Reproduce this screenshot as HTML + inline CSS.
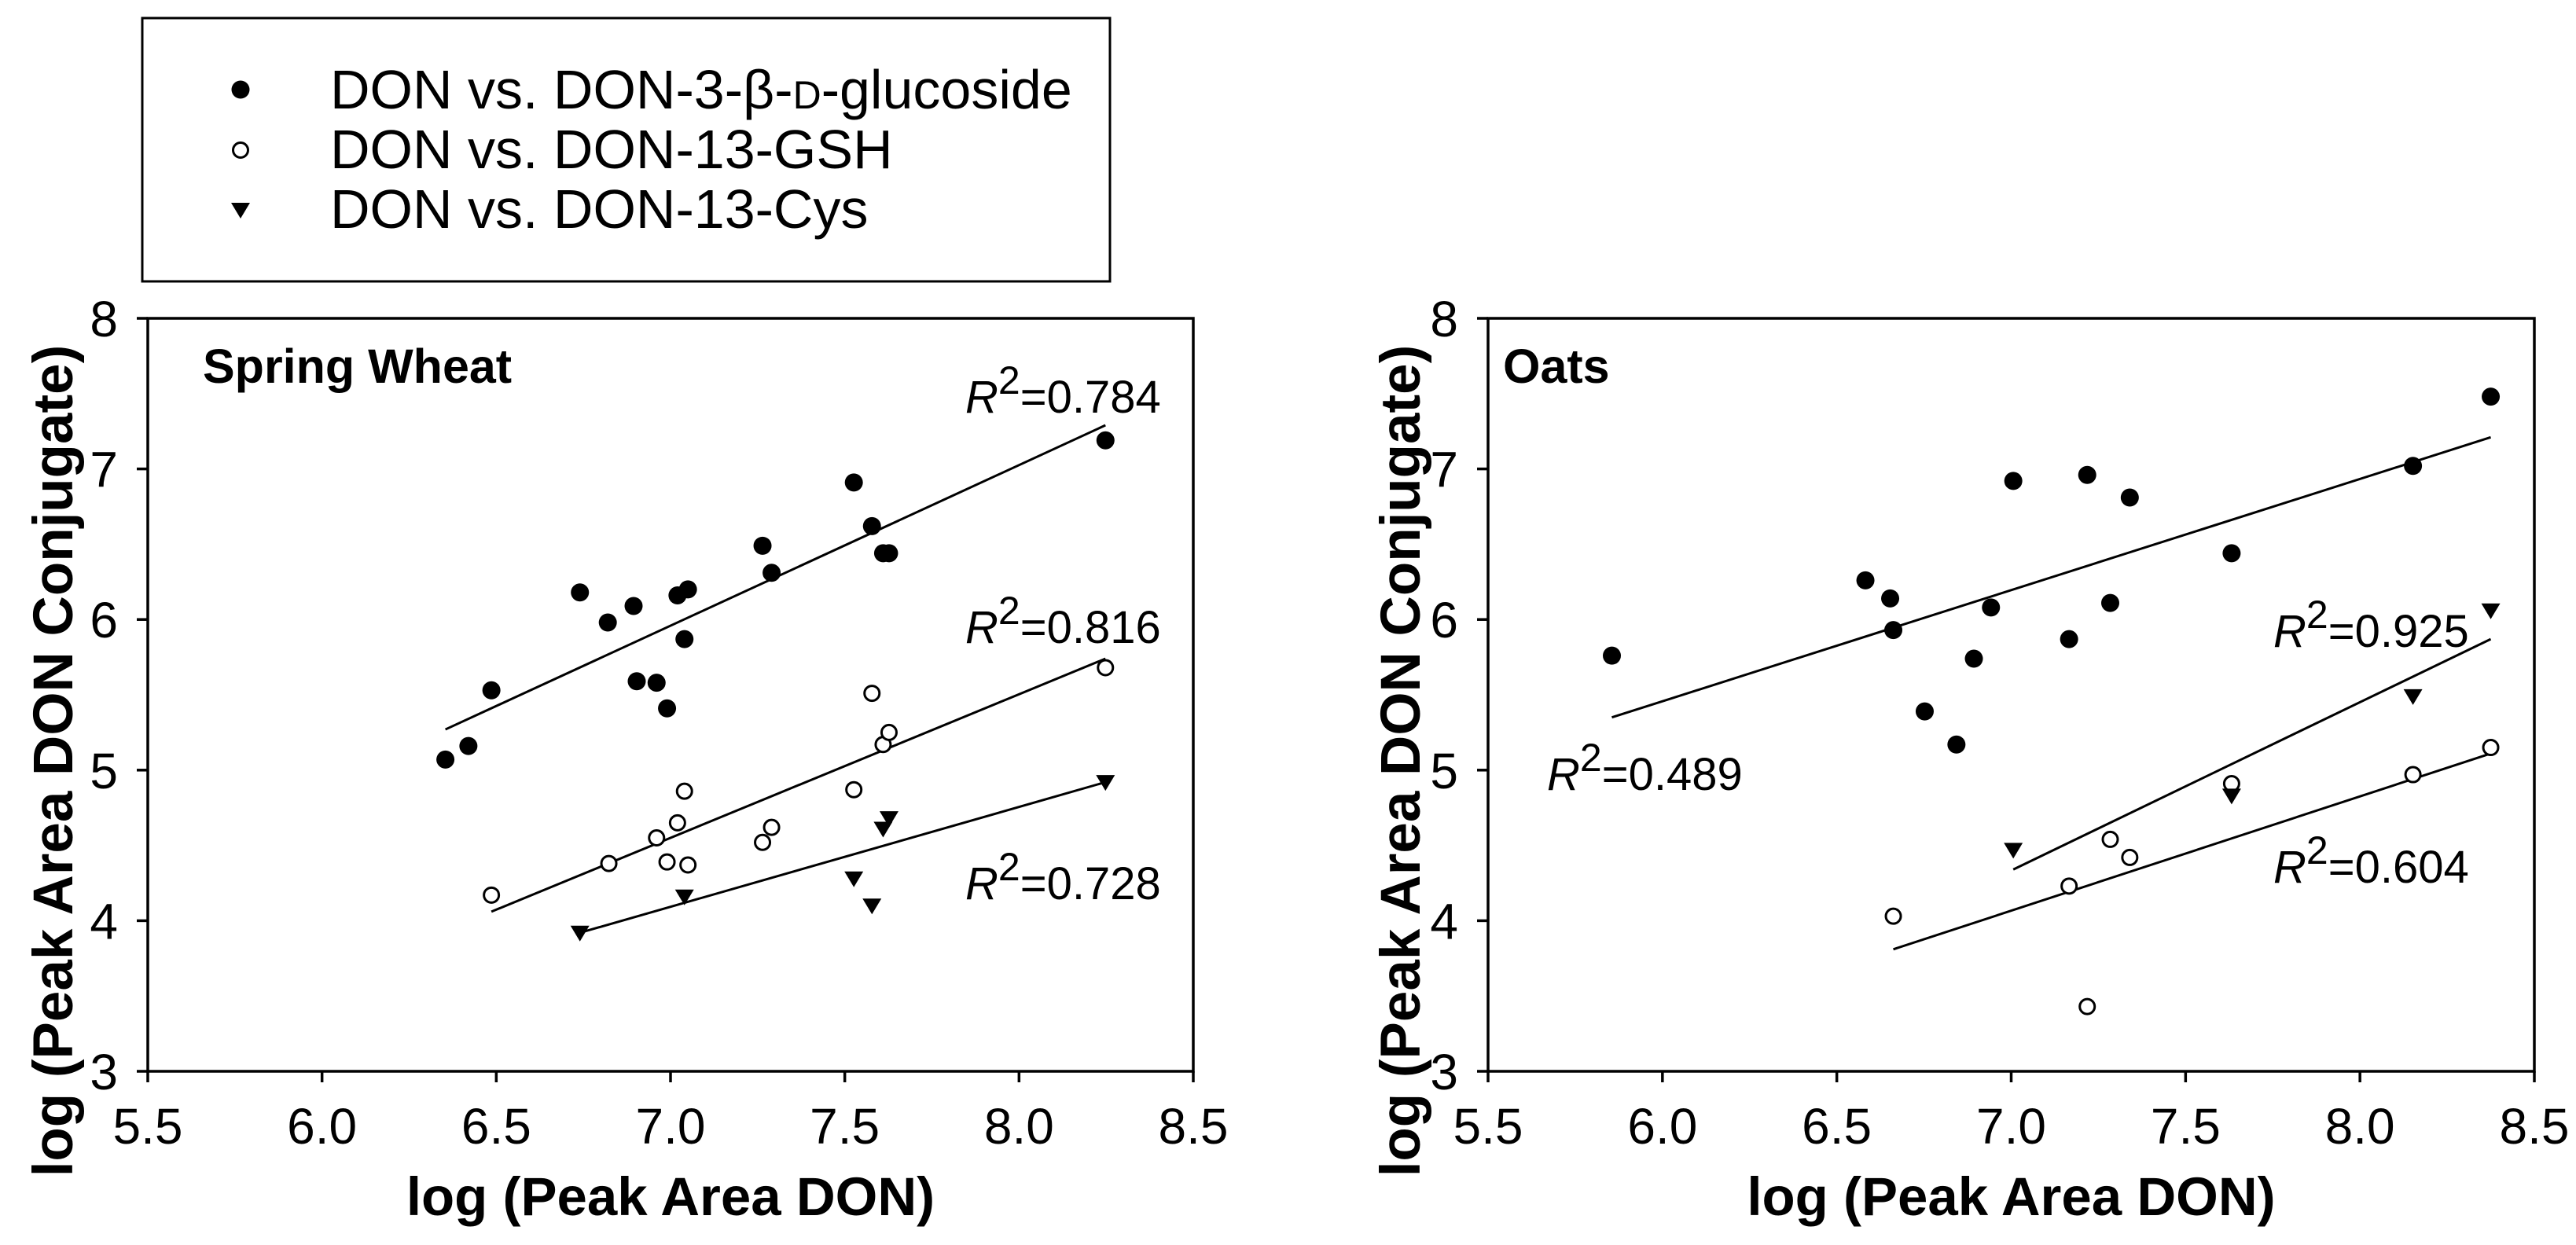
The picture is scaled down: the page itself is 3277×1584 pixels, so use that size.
<!DOCTYPE html>
<html><head><meta charset="utf-8"><style>
html,body{margin:0;padding:0;background:#fff;}
svg{display:block;font-family:"Liberation Sans",Arial,sans-serif;}
</style></head><body>
<svg id="fig" width="3277" height="1584" viewBox="0 0 3277 1584" xmlns="http://www.w3.org/2000/svg">
<g>
<rect x="181" y="23" width="1231" height="335" fill="#fff" stroke="#000" stroke-width="3"/>
<circle cx="306" cy="114" r="11.5" fill="#000"/>
<text x="420" y="138" font-size="70">DON vs. DON-3-β-<tspan font-size="50">D</tspan>-glucoside</text>
<circle cx="306" cy="191" r="9.5" fill="#fff" stroke="#000" stroke-width="3"/>
<text x="420" y="214" font-size="70">DON vs. DON-13-GSH</text>
<path d="M294,258 L318,258 L306,278 Z" fill="#000"/>
<text x="420" y="290" font-size="70">DON vs. DON-13-Cys</text>
</g>
<g id="p1"></g>
<g id="p2"></g>
</svg>
<script>
// Spring Wheat data
const swGluX=[6.354,6.42,6.486,6.74,6.82,6.894,6.903,6.96,6.99,7.02,7.05,7.04,7.264,7.29,7.526,7.578,7.61,7.627,8.248];
const swGluY=[5.07,5.16,5.53,6.18,5.98,6.09,5.59,5.58,5.41,6.16,6.20,5.87,6.49,6.31,6.91,6.62,6.44,6.44,7.19];
const swGshX=[6.486,6.823,6.96,6.99,7.02,7.04,7.05,7.264,7.29,7.526,7.578,7.61,7.627,8.248];
const swGshY=[4.17,4.38,4.55,4.39,4.65,4.86,4.37,4.52,4.62,4.87,5.51,5.17,5.25,5.68];
const swCysX=[6.74,7.04,7.526,7.578,7.61,7.627,8.248];
const swCysY=[3.92,4.16,4.28,4.10,4.61,4.68,4.92];
const swFitX=[[6.354,8.248],[6.486,8.248],[6.74,8.248]];
const swFitY=[[5.27,7.29],[4.06,5.74],[3.92,4.92]];
const swR2=["0.784","0.816","0.728"];
// Oats data
const oaGluX=[5.855,6.582,6.653,6.662,6.752,6.843,6.893,6.942,7.006,7.166,7.218,7.284,7.34,7.632,8.152,8.375];
const oaGluY=[5.76,6.26,6.14,5.93,5.39,5.17,5.74,6.08,6.92,5.87,6.96,6.11,6.81,6.44,7.02,7.48];
const oaGshX=[6.662,7.166,7.218,7.284,7.34,7.632,8.152,8.375];
const oaGshY=[4.03,4.23,3.43,4.54,4.42,4.91,4.97,5.15];
const oaCysX=[7.006,7.632,8.152,8.375];
const oaCysY=[4.47,4.83,5.49,6.06];
const oaFitX=[[5.855,8.375],[6.662,8.375],[7.006,8.375]];
const oaFitY=[[5.35,7.21],[3.81,5.11],[4.34,5.87]];
const oaR2=["0.489","0.604","0.925"];
const xTicks=["5.5","6.0","6.5","7.0","7.5","8.0","8.5"];
const yTicks=["3","4","5","6","7","8"];

const NS="http://www.w3.org/2000/svg";
function mk(parent,tag,attrs){const e=document.createElementNS(NS,tag);for(const k in attrs)e.setAttribute(k,attrs[k]);parent.appendChild(e);return e;}

function panel(g,x0,x1,title,titleX,gx,gy,sx,sy,cx,cy,fx,fy,r2,r2pos,ytitleX){
  const top=405,bot=1363;
  const X=v=>x0+(v-5.5)/3*(x1-x0);
  const Y=v=>bot-(v-3)/5*(bot-top);
  const frame=mk(g,'rect',{x:x0,y:top,width:x1-x0,height:bot-top,fill:'none',stroke:'#000','stroke-width':3.5});
  
  
  xTicks.forEach(t=>{const v=parseFloat(t);const px=X(v);
    const l=mk(g,'line',{x1:px,y1:bot,x2:px,y2:bot+14,stroke:'#000','stroke-width':3.5});
    
    
    const tx=mk(g,'text',{x:px,y:bot+92,'font-size':64,'text-anchor':'middle'});tx.textContent=t;
    
    
  });
  yTicks.forEach(t=>{const v=parseFloat(t);const py=Y(v);
    const l=mk(g,'line',{x1:x0-14,y1:py,x2:x0,y2:py,stroke:'#000','stroke-width':3.5});
    
    
    const tx=mk(g,'text',{x:x0-38,y:py+23,'font-size':64,'text-anchor':'end'});tx.textContent=t;
    
    
  });
  for(let i=0;i<3;i++){
    const l=mk(g,'line',{x1:X(fx[i][0]),y1:Y(fy[i][0]),x2:X(fx[i][1]),y2:Y(fy[i][1]),stroke:'#000','stroke-width':3});
    
    
  }
  gx.forEach((v,i)=>{const c=mk(g,'circle',{cx:X(v),cy:Y(gy[i]),r:11.5,fill:'#000'});
    
    });
  sx.forEach((v,i)=>{const c=mk(g,'circle',{cx:X(v),cy:Y(sy[i]),r:9.5,fill:'#fff',stroke:'#000','stroke-width':3});
    
    });
  cx.forEach((v,i)=>{const px=X(v),py=Y(cy[i]);
    const p=mk(g,'path',{d:`M${px-12},${py-9} L${px+12},${py-9} L${px},${py+11} Z`,fill:'#000'});
    
    });
  r2.forEach((t,i)=>{const tx=mk(g,'text',{x:r2pos[i][0],y:r2pos[i][1],'font-size':58});
    tx.innerHTML='<tspan font-style="italic">R</tspan><tspan dy="-24" font-size="50">2</tspan><tspan dy="24">='+t+'</tspan>';
    
    });
  const tt=mk(g,'text',{x:titleX,y:487,'font-size':61,'font-weight':'bold'});tt.textContent=title;
  
  
  const xt=mk(g,'text',{x:(x0+x1)/2,y:1546,'font-size':69,'font-weight':'bold','text-anchor':'middle'});xt.textContent='log (Peak Area DON)';
  
  
  const yt=mk(g,'text',{x:0,y:0,'font-size':71,'font-weight':'bold','text-anchor':'middle',transform:`translate(${ytitleX},968) rotate(-90)`});yt.textContent='log (Peak Area DON Conjugate)';
  
  
}
panel(document.getElementById('p1'),188,1518,'Spring Wheat',258,swGluX,swGluY,swGshX,swGshY,swCysX,swCysY,swFitX,swFitY,swR2,[[1228,525],[1228,818],[1228,1144]],92);
panel(document.getElementById('p2'),1893,3224,'Oats',1912,oaGluX,oaGluY,oaGshX,oaGshY,oaCysX,oaCysY,oaFitX,oaFitY,oaR2,[[1968,1005],[2892,1123],[2892,823]],1806);
</script>
</body></html>
